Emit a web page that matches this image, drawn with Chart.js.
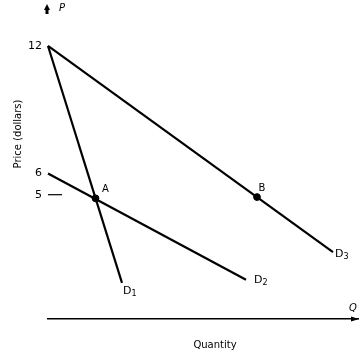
<!DOCTYPE html>
<html>
<head>
<meta charset="utf-8">
<script src="https://cdn.jsdelivr.net/npm/chart.js@4/dist/chart.umd.min.js"></script>
<style>
  html, body { margin: 0; padding: 0; background: #fff; }
  #wrap { width: 364px; height: 352px; }
</style>
</head>
<body>
<div id="wrap"><canvas id="chart"></canvas></div>
<script>
"use strict";

// demand curves (quantity has no units on the axis)
var d1Quantity = [0, 7.4];
var d1Price = [12, 0.85];
var d2Quantity = [0, 19.8];
var d2Price = [6, 1.0];
var d3Quantity = [0, 28.5];
var d3Price = [12, 2.3];

var curveNames = ["D1", "D2", "D3"];
var pointNames = ["A", "B"];
var pointQuantity = [4.75, 20.9];
var pointPrice = [4.83, 4.89];

var priceTicks = [12, 6, 5];
var markQuantity = [0, 1.4];
var markPrice = [5, 5];

function toXY(xs, ys) {
  return xs.map(function(x, i) { return { x: x, y: ys[i] }; });
}

var FONT = "'DejaVu Sans', sans-serif";

function curveSet(label, xs, ys) {
  return {
    label: label,
    data: toXY(xs, ys),
    borderColor: "#000",
    borderWidth: 2.2,
    pointRadius: 0,
    fill: false,
    clip: false
  };
}

var annotate = {
  id: "annotate",
  afterDatasetsDraw: function(chart) {
    var ctx = chart.ctx;
    var xs = chart.scales.x;
    var ys = chart.scales.y;
    var area = chart.chartArea;
    ctx.save();
    ctx.fillStyle = "#000";
    ctx.strokeStyle = "#000";

    // curve labels with subscripts
    var ends = [[d1Quantity[1], d1Price[1]], [d2Quantity[1], d2Price[1]], [d3Quantity[1], d3Price[1]]];
    var offs = [[1, 8], [8, 0], [2, 2]];
    ctx.textBaseline = "middle";
    ctx.textAlign = "left";
    curveNames.forEach(function(name, i) {
      var px = xs.getPixelForValue(ends[i][0]) + offs[i][0];
      var py = ys.getPixelForValue(ends[i][1]) + offs[i][1];
      ctx.font = "11px " + FONT;
      ctx.fillText(name.charAt(0), px, py);
      var w = ctx.measureText(name.charAt(0)).width;
      ctx.font = "8px " + FONT;
      ctx.fillText(name.slice(1), px + w, py + 3);
    });

    // point labels
    var poffs = [[10, -9], [5, -9]];
    ctx.font = "10px " + FONT;
    ctx.textAlign = "center";
    pointNames.forEach(function(name, i) {
      ctx.fillText(name,
        xs.getPixelForValue(pointQuantity[i]) + poffs[i][0],
        ys.getPixelForValue(pointPrice[i]) + poffs[i][1]);
    });

    // axis titles
    ctx.fillText("Quantity", 215, 345);
    ctx.save();
    ctx.translate(18, 134);
    ctx.rotate(-Math.PI / 2);
    ctx.fillText("Price (dollars)", 0, 0);
    ctx.restore();

    // axis letters and arrows
    ctx.font = "italic 10px " + FONT;
    ctx.fillText("P", 62, 8);
    ctx.fillText("Q", 353, 308);

    ctx.beginPath();
    ctx.moveTo(area.left - 1, 4);
    ctx.lineTo(area.left - 4, 10);
    ctx.lineTo(area.left + 2, 10);
    ctx.closePath();
    ctx.fill();
    ctx.fillRect(area.left - 2.5, 9, 3, 5);

    ctx.beginPath();
    ctx.moveTo(area.right + 1, area.bottom);
    ctx.lineTo(area.right - 7, area.bottom - 2.5);
    ctx.lineTo(area.right - 7, area.bottom + 2.5);
    ctx.closePath();
    ctx.fill();
    ctx.restore();
  }
};

new Chart(document.getElementById("chart"), {
  type: "line",
  plugins: [annotate],
  data: {
    datasets: [
      curveSet(curveNames[0], d1Quantity, d1Price),
      curveSet(curveNames[1], d2Quantity, d2Price),
      curveSet(curveNames[2], d3Quantity, d3Price),
      {
        label: "mark",
        data: toXY(markQuantity, markPrice),
        borderColor: "#000",
        borderWidth: 1.2,
        pointRadius: 0,
        clip: false
      },
      {
        label: "points",
        data: toXY(pointQuantity, pointPrice),
        showLine: false,
        pointRadius: 3.4,
        pointBackgroundColor: "#000",
        pointBorderColor: "#000",
        clip: false
      }
    ]
  },
  options: {
    responsive: true,
    maintainAspectRatio: false,
    animation: false,
    layout: { padding: { top: 10, right: 6, left: 0, bottom: 0 } },
    plugins: {
      legend: { display: false },
      tooltip: { enabled: false }
    },
    scales: {
      x: {
        type: "linear",
        min: 0,
        max: 31,
        afterFit: function(scale) { scale.height = 33; },
        grid: { display: false, drawTicks: false },
        border: { display: true, color: "#000", width: 1.6 },
        ticks: { display: false }
      },
      y: {
        type: "linear",
        min: -0.85,
        max: 13.57,
        afterFit: function(scale) { scale.width = 48; },
        afterBuildTicks: function(scale) {
          scale.ticks = priceTicks.map(function(v) { return { value: v }; });
        },
        grid: { display: false, drawTicks: false },
        border: { display: false },
        ticks: {
          color: "#000",
          padding: 6,
          font: { family: "DejaVu Sans", size: 11 }
        }
      }
    }
  }
});
</script>
</body>
</html>
